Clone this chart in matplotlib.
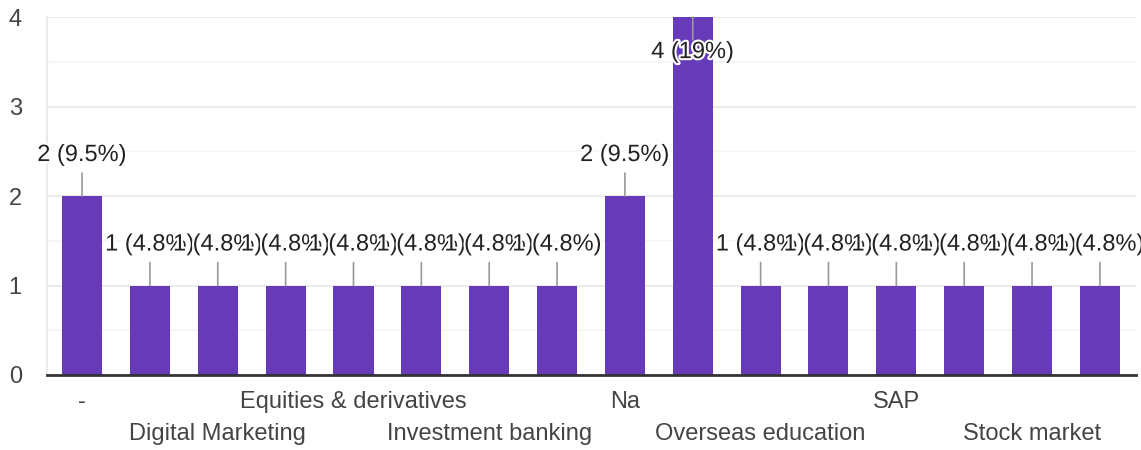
import matplotlib
matplotlib.use("Agg")
import matplotlib.pyplot as plt
import matplotlib.patheffects as pe
from matplotlib.transforms import offset_copy

plt.rcParams['font.family'] = ['Liberation Sans', 'DejaVu Sans']

# data (only every other category name is shown)
categories = ["-", "", "Digital Marketing", "", "Equities & derivatives", "",
              "Investment banking", "", "Na", "", "Overseas education", "",
              "SAP", "", "Stock market", ""]
counts = [2, 1, 1, 1, 1, 1, 1, 1, 2, 4, 1, 1, 1, 1, 1, 1]
total = sum(counts)
yticks = [0, 1, 2, 3, 4]

FS = 17

fig = plt.figure(figsize=(11.41, 4.5), dpi=100)
ax = fig.add_axes([0.041, 0.1667, 0.9545, 0.7953])

x = list(range(len(counts)))
ax.bar(x, counts, width=0.59, color="#673ab7", zorder=3)

ax.set_xlim(-0.52, len(counts) - 0.47)
ax.set_ylim(0, 4)
ax.set_yticks(yticks)
ax.set_yticks([0.5, 1.5, 2.5, 3.5], minor=True)
ax.grid(axis="y", which="major", color="#ebebeb", linewidth=1.5, zorder=0)
ax.grid(axis="y", which="minor", color="#f5f5f5", linewidth=1.2, zorder=0)
ax.tick_params(axis="y", which="both", length=0, pad=18, labelsize=FS, labelcolor="#444444")

for s in ["top", "right"]:
    ax.spines[s].set_visible(False)
ax.spines["left"].set_color("#ebebeb")
ax.spines["left"].set_linewidth(1.5)
ax.spines["bottom"].set_color("#333333")
ax.spines["bottom"].set_linewidth(2)
ax.spines["bottom"].set_zorder(4)

# category labels in two staggered rows
ax.set_xticks([])
for i, name in enumerate(categories):
    if not name:
        continue
    row = (i // 2) % 2
    tr = offset_copy(ax.transData, fig=fig, x=0, y=-27 - 32 * row, units="dots")
    ax.text(i, 0, name, transform=tr, ha="center", va="center",
            fontsize=FS, color="#444444", clip_on=False)

# value labels with leader lines
ymax = max(counts)
halo = [pe.withStroke(linewidth=3, foreground="white")]
for i, v in enumerate(counts):
    label = "%d (%s%%)" % (v, ("%.1f" % (100 * v / total)).rstrip("0").rstrip("."))
    if v == ymax:
        line_dy, text_dy = -23, -35
    else:
        line_dy, text_dy = 23, 41
    ax.annotate("", xy=(i, v), xytext=(0, line_dy), textcoords="offset pixels",
                arrowprops=dict(arrowstyle="-", color="#999999", lw=1.2,
                                shrinkA=0, shrinkB=0), zorder=5)
    ax.annotate(label, xy=(i, v), xytext=(0, text_dy), textcoords="offset pixels",
                ha="center", va="center", fontsize=FS, color="#222222",
                path_effects=halo, zorder=6, annotation_clip=False)

fig.savefig("out.png", dpi=100)
